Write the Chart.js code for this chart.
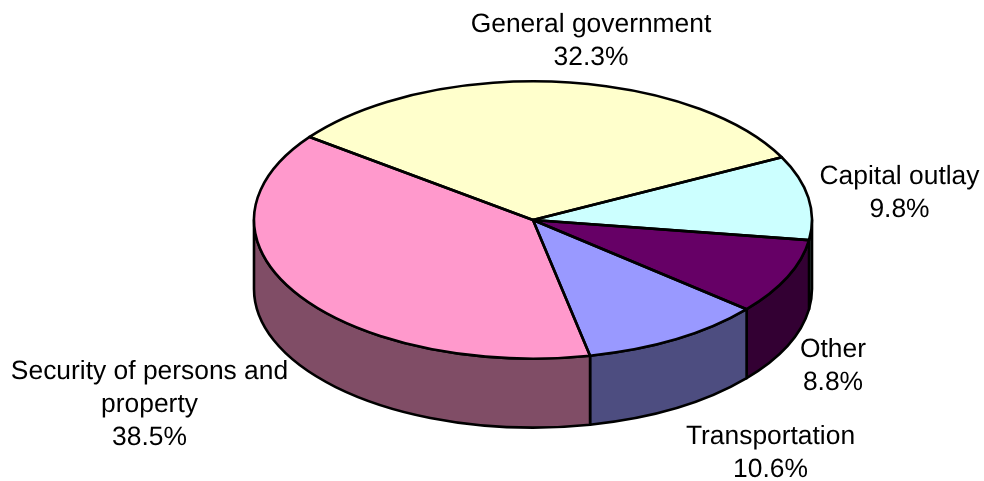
<!DOCTYPE html>
<html>
<head>
<meta charset="utf-8">
<title>Expenditures by function</title>
<style>
    html, body { margin: 0; padding: 0; background: #fff; }
    canvas { display: block; }
</style>
<script src="https://cdn.jsdelivr.net/npm/chart.js@4"></script>
</head>
<body>
<canvas id="pieChart" width="984" height="481"></canvas>
<script>
const categories = ['General government', 'Capital outlay', 'Other', 'Transportation', 'Security of persons and property'];
const shares = [32.3, 9.8, 8.8, 10.6, 38.5];
const topColors = ['#FFFFCC', '#CCFFFF', '#660066', '#9999FF', '#FF99CC'];
const wallColors = ['#808066', '#668080', '#330033', '#4D4D80', '#804D66'];

// Label text split into lines, the last line carries the percentage
const labelLines = [
    ['General government'],
    ['Capital outlay'],
    ['Other'],
    ['Transportation'],
    ['Security of persons and', 'property']
];
// Centre x and first baseline of each label block
const labelAnchors = [[591, 32], [899.5, 184], [833, 357], [770.5, 444], [149.5, 379]];

const SQUASH = 0.497;  // height/width of the tilted disc
const DEPTH = 69;      // wall height in px
const LINE_WIDTH = 2.6;
const LINE_HEIGHT = 33;

// Part of a slice lying on the front half of the disc (canvas angles 0..PI)
function frontSpan(start, end) {
    for (let k = -2; k <= 2; k++) {
        const a = Math.max(start + k * 2 * Math.PI, 0);
        const b = Math.min(end + k * 2 * Math.PI, Math.PI);
        if (b > a) return [a, b];
    }
    return null;
}

const tiltedPie = {
    id: 'tiltedPie',
    beforeDatasetsDraw(chart) {
        const ctx = chart.ctx;
        const arcs = chart.getDatasetMeta(0).data;

        // Walls first, the top face is painted over them
        ctx.save();
        ctx.lineWidth = LINE_WIDTH;
        ctx.strokeStyle = '#000';
        ctx.lineJoin = 'round';
        arcs.forEach((arc, i) => {
            const span = frontSpan(arc.startAngle, arc.endAngle);
            if (!span) return;
            const r = arc.outerRadius;
            ctx.beginPath();
            ctx.ellipse(arc.x, arc.y, r, r * SQUASH, 0, span[0], span[1]);
            ctx.ellipse(arc.x, arc.y + DEPTH, r, r * SQUASH, 0, span[1], span[0], true);
            ctx.closePath();
            ctx.fillStyle = wallColors[i];
            ctx.fill();
            ctx.stroke();
        });
        ctx.restore();

        // Squash the round pie into an ellipse
        const cy = arcs[0].y;
        ctx.save();
        ctx.translate(0, cy);
        ctx.scale(1, SQUASH);
        ctx.translate(0, -cy);
    },
    afterDatasetsDraw(chart) {
        const ctx = chart.ctx;
        ctx.restore();

        // Outlines stroked here so the pen stays even after the squash
        const arcs = chart.getDatasetMeta(0).data;
        ctx.save();
        ctx.lineWidth = LINE_WIDTH;
        ctx.strokeStyle = '#000';
        ctx.lineJoin = 'round';
        arcs.forEach(arc => {
            const r = arc.outerRadius;
            ctx.beginPath();
            ctx.moveTo(arc.x, arc.y);
            ctx.ellipse(arc.x, arc.y, r, r * SQUASH, 0, arc.startAngle, arc.endAngle);
            ctx.closePath();
            ctx.stroke();
        });
        ctx.restore();

        // Slice labels, unhinted so the glyphs keep their natural height
        ctx.save();
        ctx.fillStyle = '#000';
        ctx.font = '26.4px "Liberation Sans", Arial, sans-serif';
        ctx.textRendering = 'geometricPrecision';
        ctx.textAlign = 'center';
        ctx.textBaseline = 'alphabetic';
        shares.forEach((share, i) => {
            const lines = labelLines[i].concat(share.toFixed(1) + '%');
            const [x, y] = labelAnchors[i];
            lines.forEach((line, n) => ctx.fillText(line, x, y + n * LINE_HEIGHT));
        });
        ctx.restore();
    }
};

new Chart(document.getElementById('pieChart'), {
    type: 'pie',
    data: {
        labels: categories,
        datasets: [{
            data: shares,
            backgroundColor: topColors,
            borderWidth: 0,
            clip: false
        }]
    },
    options: {
        responsive: false,
        animation: false,
        events: [],
        radius: 279,
        rotation: -53.2,
        layout: { padding: { left: 82, bottom: 41 } },
        plugins: {
            legend: { display: false },
            tooltip: { enabled: false }
        }
    },
    plugins: [tiltedPie]
});
</script>
</body>
</html>
